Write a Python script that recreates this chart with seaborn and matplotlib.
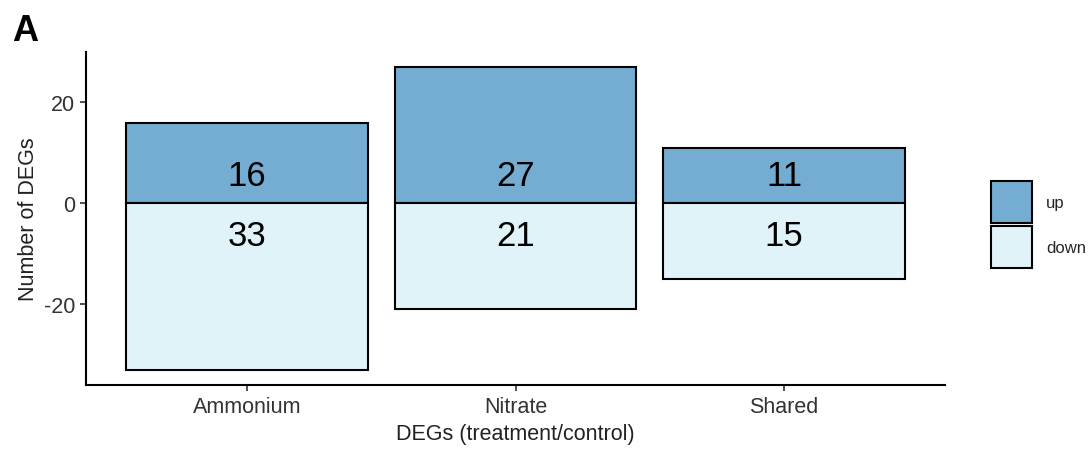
import matplotlib
matplotlib.use("Agg")
import matplotlib.pyplot as plt
from matplotlib.patches import Patch
import seaborn as sns
import pandas as pd

# Differentially expressed gene counts per treatment
categories = ["Ammonium", "Nitrate", "Shared"]
up_counts = [16, 27, 11]
down_counts = [33, 21, 15]
directions = ["up", "down"]
colors = {"up": "#74add1", "down": "#e0f3f8"}

rows = []
for cat, u, d in zip(categories, up_counts, down_counts):
    rows.append({"group": cat, "direction": "up", "count": u})
    rows.append({"group": cat, "direction": "down", "count": -d})
df = pd.DataFrame(rows)

sns.set_theme(style="ticks")
plt.rcParams["font.family"] = ["Liberation Sans", "DejaVu Sans"]
plt.rcParams["axes.unicode_minus"] = False

fig = plt.figure(figsize=(10.9, 4.52), dpi=100)
ax = fig.add_axes([0.0789, 0.146, 0.7881, 0.7367])

sns.barplot(data=df, x="group", y="count", hue="direction", order=categories,
            hue_order=directions, palette=colors, dodge=False, width=0.9,
            edgecolor="black", linewidth=1.5, saturation=1, ax=ax, legend=False)

# count labels just above / below the zero line
for i, (u, d) in enumerate(zip(up_counts, down_counts)):
    ax.text(i, 5.6, str(u), ha="center", va="center", fontsize=25, color="black")
    ax.text(i, -6.3, str(d), ha="center", va="center", fontsize=25, color="black")

ax.set_xlim(-0.6, 2.6)
ax.set_ylim(-36, 30)
ax.set_yticks([-20, 0, 20])
ax.set_xlabel("DEGs (treatment/control)", fontsize=15.5, color="#222222", labelpad=4)
ax.set_ylabel("Number of DEGs", fontsize=15.5, color="#222222", labelpad=3)
ax.tick_params(axis="both", labelsize=15.5, labelcolor="#333333", length=4.5,
               width=1.2, color="#333333")
for side in ["top", "right"]:
    ax.spines[side].set_visible(False)
for side in ["left", "bottom"]:
    ax.spines[side].set_linewidth(1.5)
    ax.spines[side].set_color("black")

handles = [Patch(facecolor=colors[k], edgecolor="black", linewidth=1.5, label=k)
           for k in directions]
fig.legend(handles=handles, loc="center left", bbox_to_anchor=(0.909, 0.501),
           frameon=False, fontsize=12, handlelength=2.5, handleheight=3.5,
           labelspacing=0.2, handletextpad=0.8, borderpad=0, borderaxespad=0)

fig.text(0.011, 0.97, "A", fontsize=26, fontweight="bold", ha="left", va="top",
         color="black")

fig.savefig("out.png", dpi=100)
